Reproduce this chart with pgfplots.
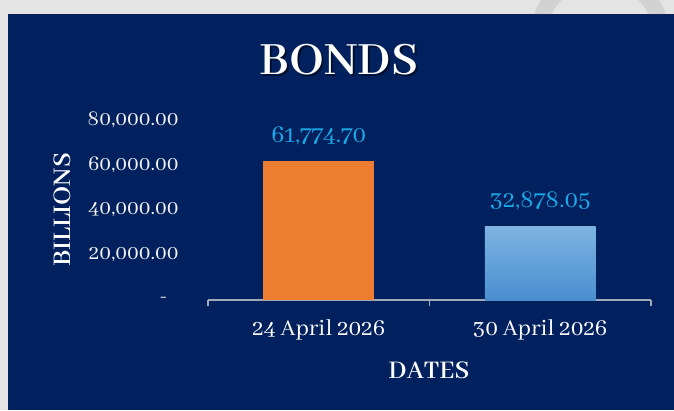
\documentclass[border=0pt]{standalone}
\usepackage{pgfplots}
\pgfplotsset{compat=1.18}
\usepackage{fontspec}
\setmainfont{Abhaya Libre}

\definecolor{navy}{HTML}{01205E}
\definecolor{bggray}{HTML}{E4E4E4}
\definecolor{ringgray}{HTML}{D2D2D2}
\definecolor{barorange}{HTML}{ED7D31}
\definecolor{bluetop}{HTML}{7DB3E2}
\definecolor{bluebot}{HTML}{4A8ECF}
\definecolor{vallabel}{HTML}{1AAAE8}
\definecolor{axisgray}{HTML}{A3A9B8}
\definecolor{ticktext}{HTML}{F2F2F2}

\begin{document}
\begin{tikzpicture}[x=1bp,y=1bp]
\useasboundingbox (0,0) rectangle (674,410);
\fill[bggray] (0,0) rectangle (674,410);
% faint watermark ring at the top right
\begin{scope}
  \clip (0,396) rectangle (674,410);
  \draw[line width=16bp, ringgray] (600,372) circle (62bp);
\end{scope}
\fill[navy] (8,0) rectangle (674,396);

% title with a soft shadow
\node[black, opacity=0.5, font=\bfseries\fontsize{51}{51}\selectfont] at (341,348) {BONDS};
\node[white, font=\bfseries\fontsize{51}{51}\selectfont] at (339,350) {BONDS};

\begin{axis}[
    at={(208bp,110bp)}, anchor=south west,
    scale only axis,
    width=443bp, height=180bp,
    xmin=-0.5, xmax=1.5,
    ymin=0, ymax=80000,
    scaled y ticks=false,
    ybar, bar width=0.5, bar shift=0pt,
    axis x line*=bottom, axis y line*=left,
    y axis line style={draw=none},
    x axis line style={axisgray, line width=1.6bp},
    xtick={-0.5,0.5,1.5}, xticklabels={},
    xtick style={axisgray, line width=1.6bp},
    tick align=outside, major tick length=6bp,
    extra x ticks={0,1},
    extra x tick labels={24 April 2026, 30 April 2026},
    extra x tick style={major tick length=0pt, tick style={draw=none},
        xticklabel style={white, font=\fontsize{25}{25}\selectfont, yshift=-16bp}},
    ytick={0,20000,40000,60000,80000},
    yticklabels={{\raisebox{-3bp}{-}\kern11bp}, {20,000.00}, {40,000.00}, {60,000.00}, {80,000.00}},
    ytick style={draw=none},
    yticklabel style={ticktext, font=\fontsize{23}{23}\selectfont, xshift=-20bp},
    point meta=y,
    nodes near coords={\fontsize{26.5}{26.5}\selectfont\pgfmathprintnumber[fixed, fixed zerofill, precision=2, 1000 sep={,}, assume math mode=true]{\pgfplotspointmeta}},
    every node near coord/.append style={vallabel, anchor=base, yshift=19bp},
    clip=false,
]
\addplot[draw=none, fill=barorange] coordinates {(0,61774.70)};
\addplot[draw=none, top color=bluetop, bottom color=bluebot] coordinates {(1,32878.05)};
\end{axis}

% axis titles
\node[white, rotate=90, font=\bfseries\fontsize{28}{28}\selectfont] at (62,200) {BILLIONS};
\node[white, font=\bfseries\fontsize{28}{28}\selectfont] at (429,40) {DATES};
\end{tikzpicture}
\end{document}
